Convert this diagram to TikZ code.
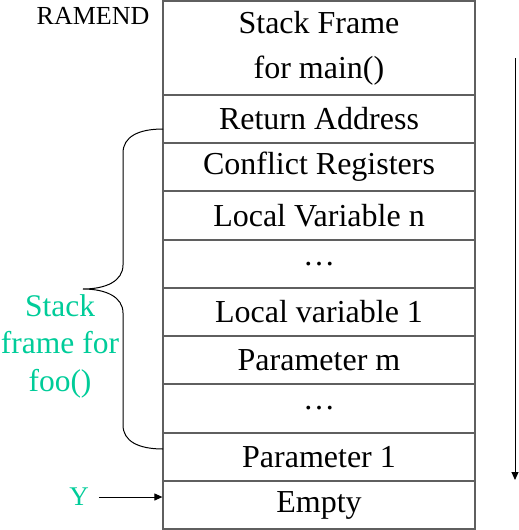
\documentclass[tikz,border=0pt]{standalone}
\usepackage{fontspec}
\setmainfont{Liberation Serif}
\usetikzlibrary{arrows.meta}
\definecolor{framegray}{RGB}{95,95,95}
\definecolor{foogreen}{RGB}{0,204,153}
\begin{document}
\begin{tikzpicture}[x=1pt,y=-1pt,
    slot/.style={draw=framegray,line width=1.2pt,minimum width=312pt,minimum height=48pt,
      inner sep=0pt,font=\fontsize{32}{45}\selectfont,align=center},
    tip/.style={-{Triangle[length=8pt,width=7pt]},line width=1pt}]
      \useasboundingbox (0,0) rectangle (519,530);
      \draw
        (319,48) node[slot,minimum height=94pt] (0){Stack Frame\\for main()}
        (319,119) node[slot] (1){Return Address}
        (319,167) node[slot] (2){Conflict Registers}
        (319,215.5) node[slot] (3){Local Variable n}
        (319,264) node[slot] (4){\dots}
        (319,312) node[slot] (5){Local variable 1}
        (319,360) node[slot] (6){Parameter m}
        (319,408.5) node[slot] (7){\dots}
        (319,457) node[slot] (8){Parameter 1}
        (319,505) node[slot] (9){Empty};
      \draw[framegray,line width=2pt] (163,1) rectangle (475,529);
      \draw
        (93,16) node[font=\fontsize{26}{30}\selectfont] (ramend){RAMEND}
        (60,346) node[font=\fontsize{31.5}{37.5}\selectfont,text=foogreen,align=center] (foo){Stack\\frame for\\foo()}
        (79,497) node[font=\fontsize{27}{30}\selectfont,text=foogreen,inner xsep=10pt] (y){Y}
        (515,58) coordinate (top)
        (515,480) coordinate (bottom);
      % brace for foo()
      \draw[line width=1pt] (163,129) .. controls (138,129) and (123,137) .. (123,153) -- (123,265)
        .. controls (123,281) and (106,289) .. (83,289)
        .. controls (106,289) and (123,297) .. (123,313) -- (123,425)
        .. controls (123,441) and (138,449) .. (163,449);
      \begin{scope}[tip]
        \draw (y) to (y -| 9.west);
        \draw (top) to (bottom);
      \end{scope}
    \end{tikzpicture}
\end{document}
